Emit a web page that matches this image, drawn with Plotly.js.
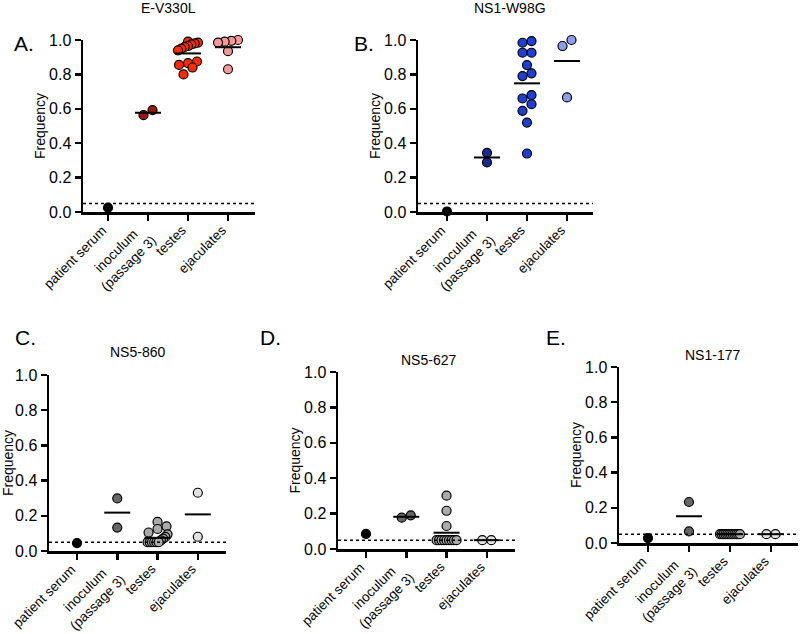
<!DOCTYPE html>
<html>
<head>
<meta charset="utf-8">
<script src="https://cdn.plot.ly/plotly-3.0.1.min.js"></script>
<style>html,body{margin:0;padding:0;background:#fff;}#chart{width:800px;height:634px;}</style>
</head>
<body>
<div id="chart"></div>
<script>
// ---------- data ----------
const categories = ['patient serum', 'inoculum<br>(passage 3)', 'testes', 'ejaculates'];
const panelTitles = ['E-V330L', 'NS1-W98G', 'NS5-860', 'NS5-627', 'NS1-177'];
const panelLetters = ['A.', 'B.', 'C.', 'D.', 'E.'];
const yTicks = [0, 0.2, 0.4, 0.6, 0.8, 1.0];
const detectionLimit = 0.05;

// E-V330L
const eV330L_patient = [0.025];
const eV330L_inoculum = [0.563, 0.592];
const eV330L_testes = [0.99, 0.985, 0.98, 0.975, 0.965, 0.96, 0.95, 0.94, 0.875, 0.865, 0.855, 0.84, 0.80];
const eV330L_ejaculates = [1.0, 0.995, 0.99, 0.985, 0.935, 0.83];
const eV330L_means = [null, 0.577, 0.922, 0.958];

// NS1-W98G
const nS1W98G_patient = [0.003];
const nS1W98G_inoculum = [0.288, 0.344];
const nS1W98G_testes = [0.994, 0.984, 0.926, 0.926, 0.854, 0.806, 0.790, 0.680, 0.660, 0.627, 0.588, 0.520, 0.340];
const nS1W98G_ejaculates = [1.0, 0.965, 0.666];
const nS1W98G_means = [null, 0.317, 0.748, 0.878];

// NS5-860
const nS5860_patient = [0.045];
const nS5860_inoculum = [0.299, 0.133];
const nS5860_testes = [0.165, 0.14, 0.125, 0.105, 0.095, 0.08, 0.07, 0.06, 0.05, 0.05, 0.05, 0.05, 0.05, 0.05];
const nS5860_ejaculates = [0.331, 0.081];
const nS5860_means = [null, 0.218, 0.075, 0.208];

// NS5-627
const nS5627_patient = [0.085];
const nS5627_inoculum = [0.177, 0.19];
const nS5627_testes = [0.301, 0.216, 0.13, 0.05, 0.05, 0.05, 0.05, 0.05, 0.05, 0.05, 0.05, 0.05];
const nS5627_ejaculates = [0.05, 0.05];
const nS5627_means = [null, 0.182, 0.092, 0.05];

// NS1-177
const nS1177_patient = [0.028];
const nS1177_inoculum = [0.233, 0.066];
const nS1177_testes = [0.05, 0.05, 0.05, 0.05, 0.05, 0.05, 0.05, 0.05, 0.05, 0.05, 0.05, 0.05];
const nS1177_ejaculates = [0.05, 0.05];
const nS1177_means = [null, 0.152, 0.05, 0.05];

// ---------- styles ----------
const redColors = ['#000000', '#9c1a0c', '#ff2a00', '#f59a98'];
const blueColors = ['#000000', '#1c2a90', '#1f3fd4', '#8c9cee'];
const greyColors = ['#000000', '#666666', '#aaaaaa', '#e2e2e2'];

const panels = [
  {groups: [eV330L_patient, eV330L_inoculum, eV330L_testes, eV330L_ejaculates], means: eV330L_means, colors: redColors,
   px: [83, 255], py: [40, 212], xr: [-0.625, 3.675], letter: [12, 43], title: [168, 8]},
  {groups: [nS1W98G_patient, nS1W98G_inoculum, nS1W98G_testes, nS1W98G_ejaculates], means: nS1W98G_means, colors: blueColors,
   px: [418, 593], py: [40, 212], xr: [-0.725, 3.65], letter: [352, 43], title: [510, 8]},
  {groups: [nS5860_patient, nS5860_inoculum, nS5860_testes, nS5860_ejaculates], means: nS5860_means, colors: greyColors,
   px: [49, 226], py: [375, 551], xr: [-0.695, 3.70], letter: [13, 337], title: [137, 352]},
  {groups: [nS5627_patient, nS5627_inoculum, nS5627_testes, nS5627_ejaculates], means: nS5627_means, colors: greyColors,
   px: [338, 515], py: [372, 549], xr: [-0.695, 3.70], letter: [258, 337], title: [428, 360]},
  {groups: [nS1177_patient, nS1177_inoculum, nS1177_testes, nS1177_ejaculates], means: nS1177_means, colors: greyColors,
   px: [619, 798], py: [367, 543], xr: [-0.707, 3.66], letter: [544, 337], title: [712, 355]}
];

const W = 800, H = 634;
const markerSize = 9;
const markerD = 8;      // px, binning height / spacing
const maxHalf = 10;     // px, max horizontal spread
const meanHalf = 13;    // px, half width of mean line

function swarmOffsets(vals, pxPerY) {
  const order = vals.map((v, i) => i).sort((a, b) => vals[a] - vals[b]);
  const bins = []; let cur = null;
  for (const i of order) {
    const y = vals[i] * pxPerY;
    if (!cur || y - cur.start >= markerD) { cur = {start: y, idx: []}; bins.push(cur); }
    cur.idx.push(i);
  }
  const off = new Array(vals.length).fill(0);
  for (const b of bins) {
    const n = b.idx.length;
    let step = markerD + 1;
    if (n > 1 && (n - 1) * step / 2 > maxHalf) step = 2 * maxHalf / (n - 1);
    b.idx.forEach((i, j) => { off[i] = (j - (n - 1) / 2) * step; });
  }
  return off;
}

const traces = [];
const layout = {
  width: W, height: H, margin: {l: 0, r: 0, t: 0, b: 0},
  paper_bgcolor: '#ffffff', plot_bgcolor: '#ffffff', showlegend: false,
  font: {family: 'Liberation Sans, Arial, sans-serif', color: '#000', size: 14},
  shapes: [], annotations: []
};

panels.forEach((p, k) => {
  const sfx = k === 0 ? '' : String(k + 1);
  const xa = 'x' + sfx, ya = 'y' + sfx;
  const pxPerX = (p.px[1] - p.px[0]) / (p.xr[1] - p.xr[0]);
  const pxPerY = p.py[1] - p.py[0];
  p.groups.forEach((vals, c) => {
    const off = swarmOffsets(vals, pxPerY);
    traces.push({
      type: 'scatter', mode: 'markers', xaxis: xa, yaxis: ya, cliponaxis: false,
      x: vals.map((v, i) => c + off[i] / pxPerX), y: vals,
      marker: {size: markerSize, color: p.colors[c], line: {color: '#000', width: 1.2}},
      hoverinfo: 'y'
    });
  });
  p.means.forEach((m, c) => {
    if (m === null) return;
    const hw = meanHalf / pxPerX;
    traces.push({
      type: 'scatter', mode: 'lines', xaxis: xa, yaxis: ya, cliponaxis: false,
      x: [c - hw, c + hw], y: [m, m], line: {color: '#000', width: 2}, hoverinfo: 'skip'
    });
  });
  layout['xaxis' + sfx] = {
    domain: [p.px[0] / W, p.px[1] / W], range: p.xr, anchor: ya,
    tickmode: 'array', tickvals: [0, 1, 2, 3], showticklabels: false,
    showline: true, linecolor: '#000', linewidth: 2.5, ticks: 'outside', ticklen: 6, tickwidth: 2.5, tickcolor: '#000',
    showgrid: false, zeroline: false, fixedrange: true
  };
  layout['yaxis' + sfx] = {
    domain: [1 - p.py[1] / H, 1 - p.py[0] / H], range: [0, 1], anchor: xa,
    tickmode: 'array', tickvals: yTicks, tickformat: '.1f',
    showline: true, linecolor: '#000', linewidth: 2.5, ticks: 'outside', ticklen: 6, tickwidth: 2.5, tickcolor: '#000',
    showgrid: false, zeroline: false, tickfont: {size: 16, color: '#000'}, fixedrange: true,
    title: {text: 'Frequency', font: {size: 14, color: '#000'}, standoff: 0}
  };
  // category labels rotated 45 degrees, text ending at each tick
  categories.forEach((lab, c) => {
    const twoLine = lab.indexOf('<br>') >= 0;
    layout.annotations.push({
      xref: xa, yref: ya, x: c, y: 0, xanchor: 'right', yanchor: 'top', align: 'center',
      xshift: twoLine ? 14 : 4, yshift: twoLine ? -6 : -8, textangle: -45, text: lab, showarrow: false,
      font: {size: 13.5, color: '#000'}
    });
  });
  layout.shapes.push({
    type: 'line', xref: xa + ' domain', yref: ya, x0: 0, x1: 1, y0: detectionLimit, y1: detectionLimit,
    line: {color: '#000', width: 1.5, dash: 'dot'}
  });
  layout.annotations.push({
    xref: 'paper', yref: 'paper', x: p.title[0] / W, y: 1 - p.title[1] / H, xanchor: 'center', yanchor: 'middle',
    text: panelTitles[k], showarrow: false, font: {size: 14, color: '#000'}
  });
  layout.annotations.push({
    xref: 'paper', yref: 'paper', x: p.letter[0] / W, y: 1 - p.letter[1] / H, xanchor: 'left', yanchor: 'middle',
    text: panelLetters[k], showarrow: false, font: {size: 21, color: '#000'}
  });
});

Plotly.newPlot('chart', traces, layout, {staticPlot: true, displayModeBar: false});
</script>
</body>
</html>
